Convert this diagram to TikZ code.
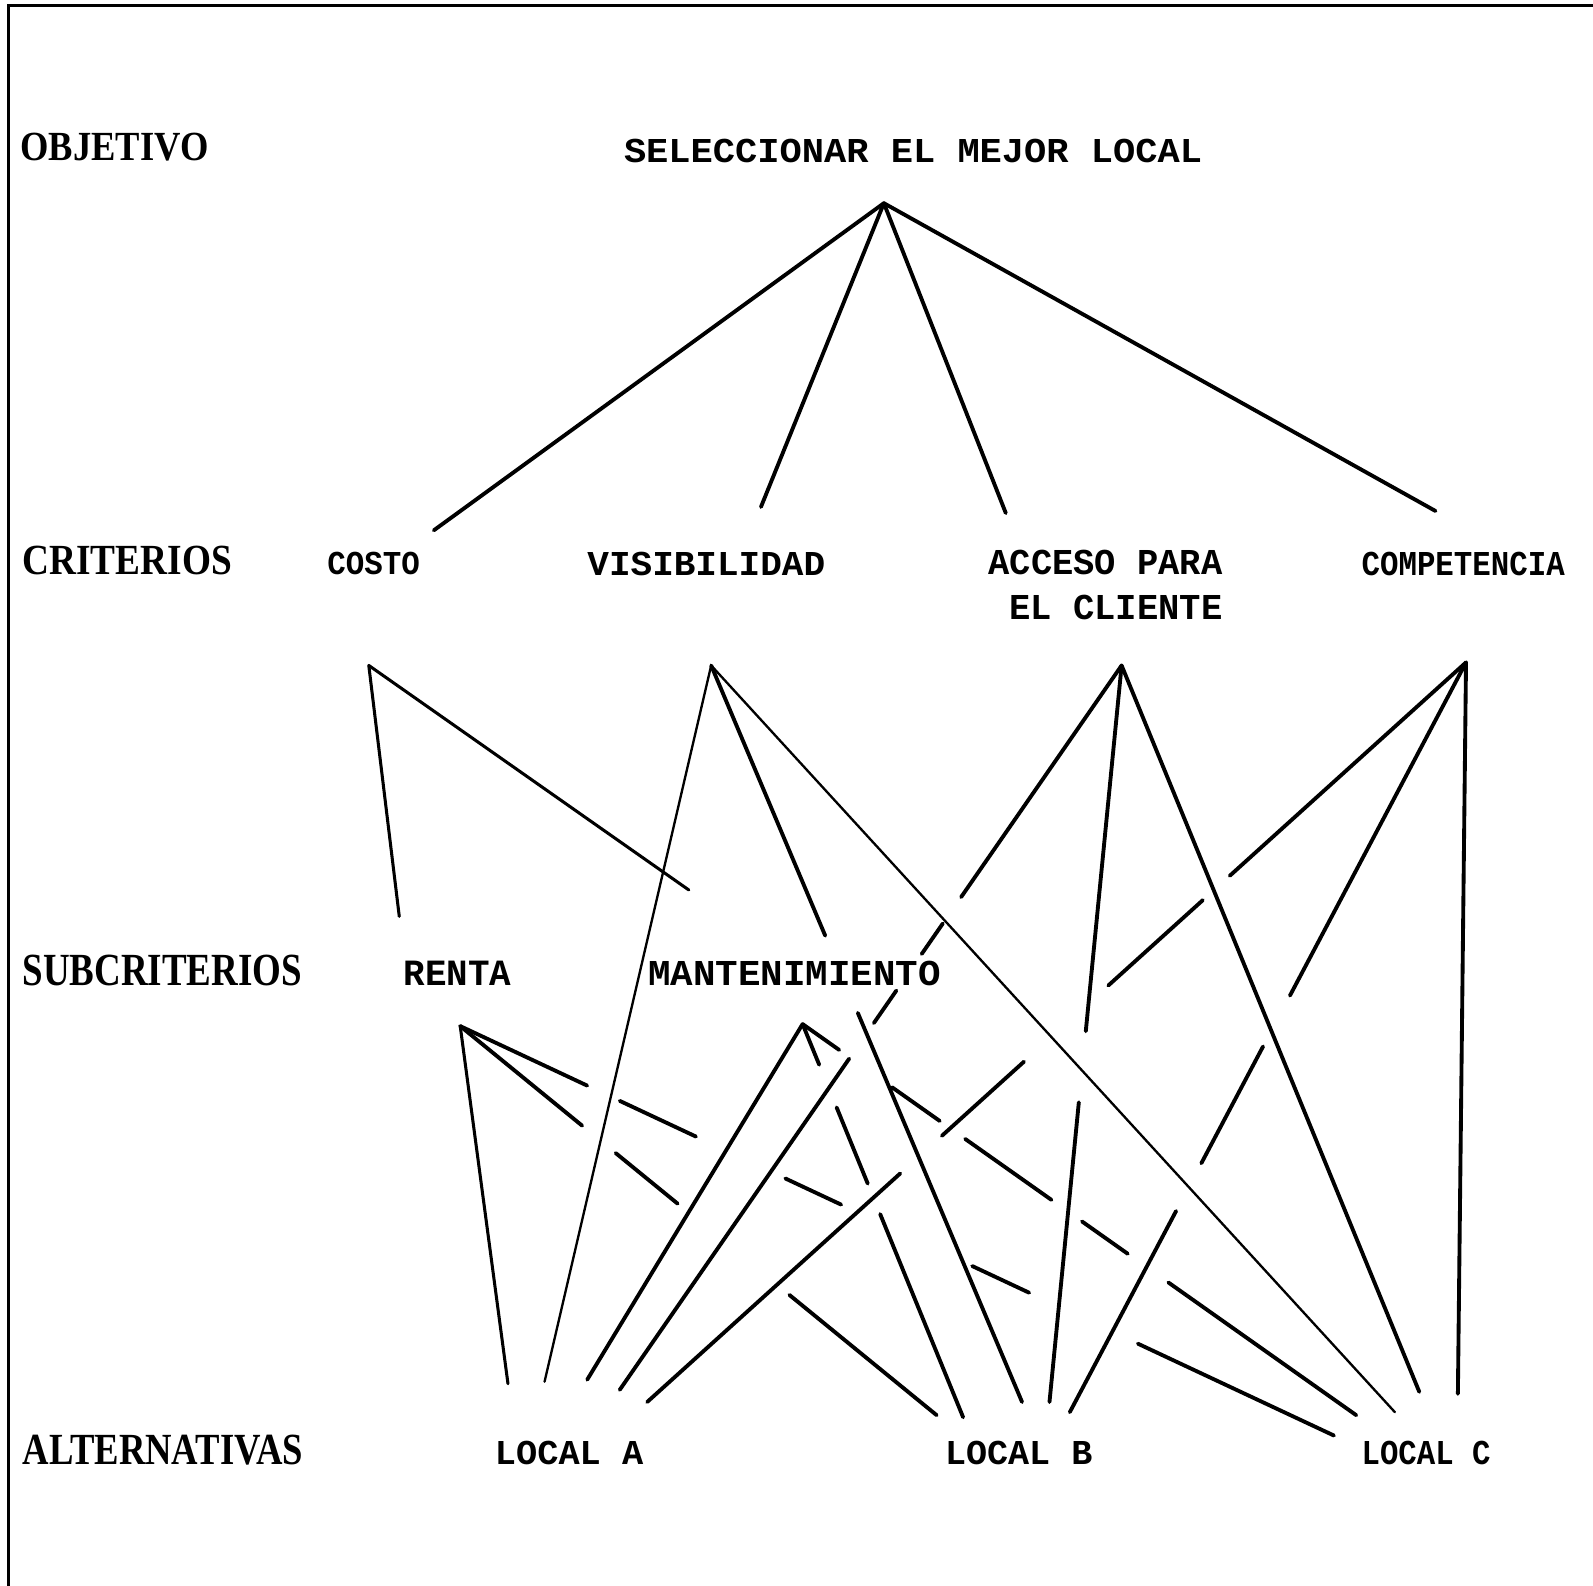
\documentclass[tikz,border=0pt]{standalone}
\usepackage{fontspec}
\setmainfont{Liberation Serif}
\newfontfamily\monob{Liberation Mono}
\usetikzlibrary{calc}
\tikzset{
  thk/.style={line width=3.8pt, line cap=round},
  thn/.style={line width=2.3pt, line cap=round},
  med/.style={line width=3.0pt, line cap=round},
  lbl/.style={inner sep=0pt, anchor=north west},
}
\newcommand\fitm[3]{\resizebox{#1pt}{#2pt}{\monob\bfseries #3}}
\newcommand\fits[3]{\resizebox{#1pt}{#2pt}{\bfseries #3}}
% \piece{style}{from}{to}{t1}{t2}
\newcommand\piece[5]{\draw[#1] ($(#2)!#4!(#3)$) -- ($(#2)!#5!(#3)$);}
\begin{document}
\begin{tikzpicture}[x=1pt,y=-1pt]
\useasboundingbox (0,0) rectangle (1568,1561);
\draw[line width=2.8pt] (8,1561) -- (8,5) -- (1568,5);

% labels
\node[lbl] (obj) at (20,131) {\fits{185}{27}{OBJETIVO}};
\node[lbl] (sel) at (614,137) {\fitm{569}{23}{SELECCIONAR EL MEJOR LOCAL}};
\node[lbl] (cri) at (22,537) {\fits{206}{28}{CRITERIOS}};
\node[lbl] (costo) at (322,543) {\fitm{91}{22}{COSTO}};
\node[lbl] (visib) at (578,543) {\fitm{234}{23}{VISIBILIDAD}};
\node[lbl] (acc1) at (973,541) {\fitm{230}{24}{ACCESO PARA}};
\node[lbl] (acc2) at (993,586) {\fitm{210}{24}{EL CLIENTE}};
\node[lbl] (comp) at (1340,543) {\fitm{200}{23}{COMPETENCIA}};
\node[lbl] (sub) at (22,940) {\fits{275}{30}{SUBCRITERIOS}};
\node[lbl] (renta) at (397,946) {\fitm{106}{24}{RENTA}};
\node[lbl] (mant) at (638,946) {\fitm{288}{24}{MANTENIMIENTO}};
\node[lbl] (alt) at (22,1412) {\fits{276}{29}{ALTERNATIVAS}};
\node[lbl] (la) at (487,1418) {\fitm{146}{23}{LOCAL A}};
\node[lbl] (lb) at (930,1418) {\fitm{145}{23}{LOCAL B}};
\node[lbl] (lc) at (1340,1418) {\fitm{127}{23}{LOCAL C}};

% apex and end coordinates
\coordinate (O) at (870,200);
\coordinate (tC) at (427,522);
\coordinate (tV) at (749,499);
\coordinate (tA) at (990,505);
\coordinate (tP) at (1413,503);
\coordinate (C) at (363,655);
\coordinate (cR) at (393,902);
\coordinate (cM) at (678,876);
\coordinate (V) at (700,655);
\coordinate (Ac) at (1104,655);
\coordinate (Cp) at (1443,652);
\coordinate (R) at (453,1010);
\coordinate (M) at (790,1008);
\coordinate (aR) at (500,1362);
\coordinate (aV) at (536,1360);
\coordinate (aM) at (578,1358);
\coordinate (aAc) at (610,1368);
\coordinate (aCp) at (637,1380);
\coordinate (bR) at (922,1393);
\coordinate (bM) at (948,1395);
\coordinate (bV) at (1006,1380);
\coordinate (bAc) at (1033,1380);
\coordinate (bCp) at (1053,1390);
\coordinate (cRe) at (1313,1413);
\coordinate (cMa) at (1335,1393);
\coordinate (cVi) at (1373,1390);
\coordinate (cAc) at (1397,1370);
\coordinate (cCp) at (1435,1372);

% objective to criteria
\draw[thk] (O) -- (tC);
\draw[thk] (O) -- (tV);
\draw[thk] (O) -- (tA);
\draw[thk] (O) -- (tP);

% costo to subcriteria
\draw[med] (C) -- (cR);
\draw[med] (C) -- (cM);

% continuous lines
\draw[med] (R) -- (aR);
\draw[thn] (V) -- (aV);
\draw[thk] (M) -- (aM);
\draw[thn] (V) -- (cVi);
\draw[thk] (Ac) -- (cAc);
\draw[thk] (Cp) -- (cCp);

% Acceso -> Local A
\piece{thk}{Ac}{aAc}{0}{0.3198}
\piece{thk}{Ac}{aAc}{0.3562}{0.3983}
\piece{thk}{Ac}{aAc}{0.4488}{0.4937}
\piece{thk}{Ac}{aAc}{0.5428}{1}
% Competencia -> Local A
\piece{thk}{Cp}{aCp}{0}{0.2885}
\piece{thk}{Cp}{aCp}{0.3214}{0.4368}
\piece{thk}{Cp}{aCp}{0.5398}{0.6401}
\piece{thk}{Cp}{aCp}{0.6909}{1}
% Renta -> Local B
\piece{thk}{R}{bR}{0}{0.2559}
\piece{thk}{R}{bR}{0.3262}{0.4563}
\piece{thk}{R}{bR}{0.6908}{1}
% Mantenimiento -> Local B
\piece{thk}{M}{bM}{0}{0.1034}
\piece{thk}{M}{bM}{0.2119}{0.4057}
\piece{thk}{M}{bM}{0.4832}{1}
% Visibilidad -> Local B
\piece{thk}{V}{bV}{0}{0.3669}
\piece{thk}{V}{bV}{0.4717}{1}
% Acceso -> Local B
\piece{thk}{Ac}{bAc}{0}{0.4966}
\piece{thk}{Ac}{bAc}{0.5931}{1}
% Competencia -> Local B
\piece{thk}{Cp}{bCp}{0}{0.4444}
\piece{thk}{Cp}{bCp}{0.5122}{0.668}
\piece{thk}{Cp}{bCp}{0.7317}{1}
% Renta -> Local C
\piece{thk}{R}{cRe}{0}{0.1453}
\piece{thk}{R}{cRe}{0.1826}{0.2698}
\piece{thk}{R}{cRe}{0.3721}{0.4360}
\piece{thk}{R}{cRe}{0.5860}{0.6512}
\piece{thk}{R}{cRe}{0.7756}{1}
% Mantenimiento -> Local C
\piece{thk}{M}{cMa}{0}{0.0661}
\piece{thk}{M}{cMa}{0.1615}{0.2477}
\piece{thk}{M}{cMa}{0.2936}{0.4495}
\piece{thk}{M}{cMa}{0.5046}{0.5872}
\piece{thk}{M}{cMa}{0.6606}{1}
\end{tikzpicture}
\end{document}
